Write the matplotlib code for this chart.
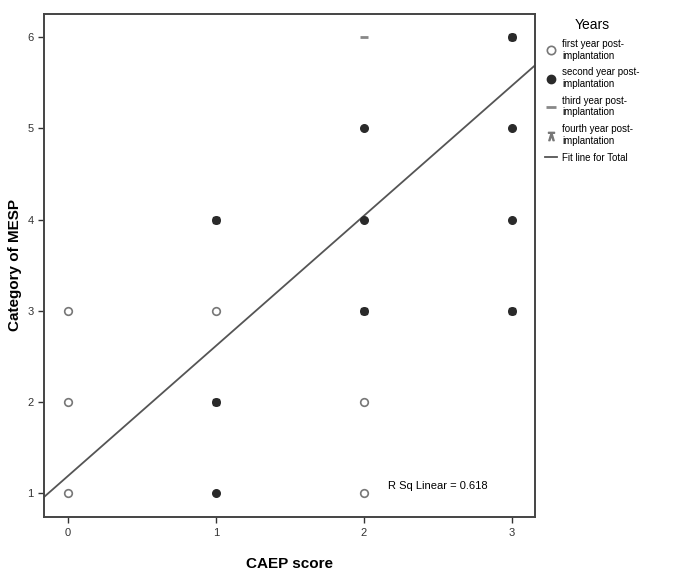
import numpy as np
import matplotlib
matplotlib.use("Agg")
from matplotlib import pyplot as plt
from matplotlib.lines import Line2D

plt.rcParams['font.family'] = ['Liberation Sans', 'DejaVu Sans']

# CAEP score vs MESP category, by year after implantation
first_x = [0, 0, 0, 1, 2, 2]
first_y = [1, 2, 3, 3, 2, 1]
second_x = [1, 1, 1, 2, 2, 2, 3, 3, 3, 3]
second_y = [1, 2, 4, 3, 4, 5, 3, 4, 5, 6]
third_x = [2]
third_y = [6]
fourth_x = [1, 1, 2, 3, 3]
fourth_y = [2, 4, 3, 3, 6]

fit_intercept = 1.18
fit_slope = 1.43
r_sq = 0.618

fig = plt.figure(figsize=(6.77, 5.74), dpi=100)
ax = fig.add_axes([0.065, 0.099, 0.725, 0.877])

ax.set_xlim(-0.16, 3.155)
ax.set_ylim(0.73, 6.26)

xs = np.array(ax.get_xlim())
ax.plot(xs, fit_intercept + fit_slope * xs, color='#555555', lw=1.3, zorder=2)

ax.scatter(fourth_x, fourth_y, marker='s', s=24, color='#333333', zorder=3)
ax.scatter(second_x, second_y, marker='o', s=30, color='#2a2a2a', zorder=4)
ax.scatter(first_x, first_y, marker='o', s=30, facecolor='white',
           edgecolor='#777777', linewidth=1.2, zorder=4)
ax.scatter(third_x, third_y, marker='_', s=30, color='#888888', linewidth=2, zorder=4)

ax.text(2.16, 1.07, 'R Sq Linear = %.3f' % r_sq, fontsize=8, va='center', ha='left')

ax.set_xticks([0, 1, 2, 3])
ax.set_yticks([1, 2, 3, 4, 5, 6])
ax.tick_params(labelsize=8, length=4, width=1, colors='#333333')
for sp in ax.spines.values():
    sp.set_color('#444444')
    sp.set_linewidth(1.4)

ax.set_xlabel('CAEP score', fontsize=11, fontweight='bold', labelpad=14)
ax.set_ylabel('Category of MESP', fontsize=11, fontweight='bold')
ax.yaxis.set_label_coords(-0.045, 0.5)

handles = [
    Line2D([], [], ls='', marker='o', ms=6, mfc='white', mec='#777777', mew=1.2),
    Line2D([], [], ls='', marker='o', ms=6, color='#2a2a2a'),
    Line2D([], [], ls='', marker='_', ms=7, mew=2, color='#888888'),
    Line2D([], [], ls='', marker='$\u22bc$', ms=6, color='#777777'),
    Line2D([], [], color='#555555', lw=1.3),
]
labels = ['first year post-\nimplantation', 'second year post-\nimplantation',
          'third year post-\nimplantation', 'fourth year post-\nimplantation',
          'Fit line for Total']
leg = fig.legend(handles, labels, title='Years', loc='upper left',
                 bbox_to_anchor=(0.80, 0.975), frameon=False, fontsize=7,
                 title_fontsize=10, handlelength=1.2, handletextpad=0.5,
                 labelspacing=0.7, borderaxespad=0)
leg._legend_box.align = 'center'

fig.savefig('out.png', dpi=100)
